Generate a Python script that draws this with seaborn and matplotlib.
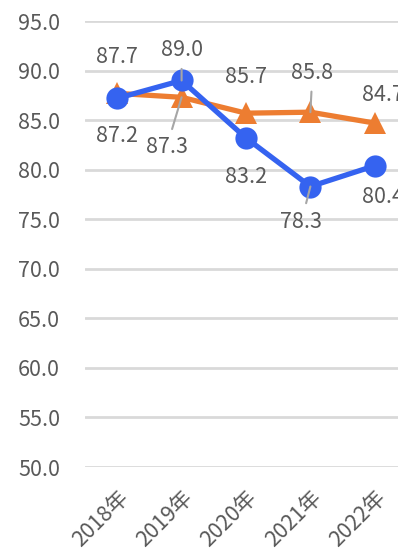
import matplotlib
matplotlib.use("Agg")
import matplotlib.pyplot as plt
import seaborn as sns
import pandas as pd

# data
years = ["2018年", "2019年", "2020年", "2021年", "2022年"]
blue_vals = [87.2, 89.0, 83.2, 78.3, 80.4]
orange_vals = [87.7, 87.3, 85.7, 85.8, 84.7]
y_ticks = [50, 55, 60, 65, 70, 75, 80, 85, 90, 95]

df = pd.DataFrame({"year": years, "blue": blue_vals, "orange": orange_vals})
df["x"] = range(len(df))

sns.set_style("white")
plt.rcParams["font.family"] = ["Noto Sans CJK SC", "DejaVu Sans"]

BLUE = "#3563f0"
ORANGE = "#ed7d31"
TEXT = "#595959"
FS = 15.5

fig = plt.figure(figsize=(3.98, 5.51), dpi=100)
ax = fig.add_axes([85 / 398, 1 - 467 / 551, 322 / 398, 446 / 551])

for y in y_ticks:
    ax.axhline(y, color="#d9d9d9", lw=2, zorder=0)

sns.lineplot(data=df, x="x", y="orange", ax=ax, color=ORANGE, lw=3.8,
             marker="^", markersize=16, markeredgewidth=0, zorder=3)
sns.lineplot(data=df, x="x", y="blue", ax=ax, color=BLUE, lw=3.8,
             marker="o", markersize=16, markeredgewidth=0, zorder=4)

ax.set_xlim(-0.5, 4.5)
ax.set_ylim(50, 95)
ax.set_yticks(y_ticks)
ax.set_yticklabels([f"{v:.1f}" for v in y_ticks], fontsize=FS, color=TEXT)
ax.set_xticks(df["x"])
ax.set_xticklabels(years, fontsize=15.5, color=TEXT, rotation=45,
                   ha="right", rotation_mode="anchor")
ax.tick_params(axis="both", length=0)
ax.tick_params(axis="y", pad=18)
ax.tick_params(axis="x", pad=14)
ax.set_xlabel("")
ax.set_ylabel("")
for s in ax.spines.values():
    s.set_visible(False)

# label offsets (pixels) and whether a leader line is drawn
orange_off = [(0, 36), (-15, -50), (0, 36), (2, 39), (8, 28)]
blue_off = [(0, -38), (0, 30), (0, -39), (-9, -35), (8, -31)]
orange_lead = [False, True, False, True, False]
blue_lead = [False, True, False, True, False]

lead = dict(arrowstyle="-", color="#a6a6a6", lw=1.5, shrinkA=3, shrinkB=0)
for i in range(len(years)):
    ax.annotate(f"{orange_vals[i]:.1f}", (i, orange_vals[i]), xytext=orange_off[i],
                textcoords="offset pixels", ha="center", va="center",
                fontsize=FS, color=TEXT, annotation_clip=False, zorder=6,
                arrowprops=lead if orange_lead[i] else None)
    ax.annotate(f"{blue_vals[i]:.1f}", (i, blue_vals[i]), xytext=blue_off[i],
                textcoords="offset pixels", ha="center", va="center",
                fontsize=FS, color=TEXT, annotation_clip=False, zorder=6,
                arrowprops=lead if blue_lead[i] else None)

fig.savefig("out.png", dpi=100)
